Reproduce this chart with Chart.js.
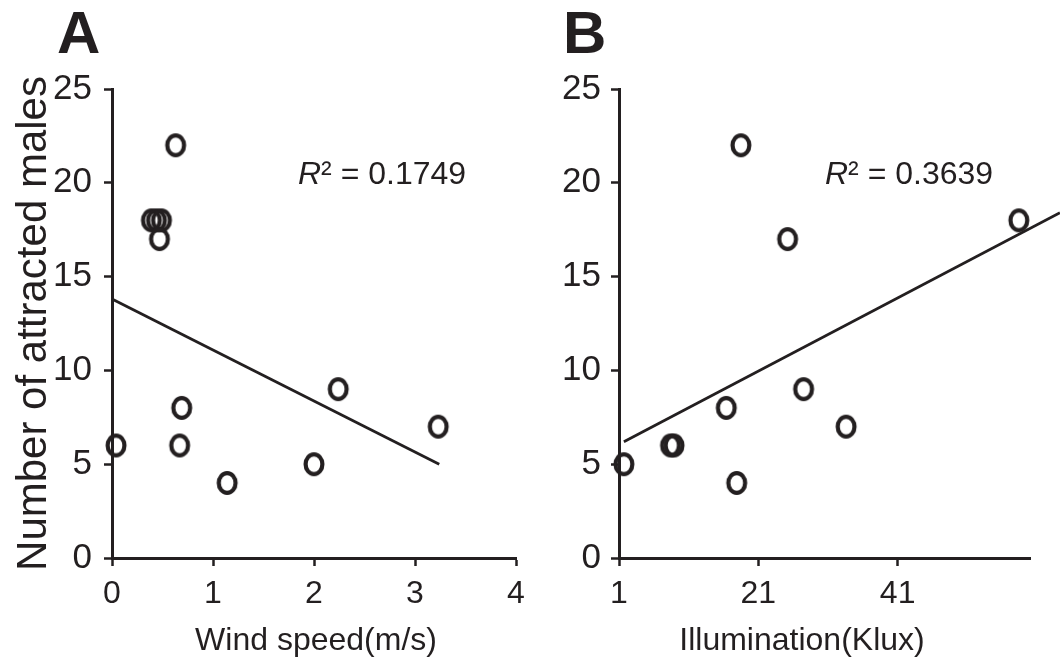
<!DOCTYPE html>
<html>
<head>
<meta charset="utf-8">
<script src="https://cdn.jsdelivr.net/npm/chart.js@4/dist/chart.umd.min.js"></script>
<style>
  html, body { margin: 0; padding: 0; background: #fff; }
  #wrap { position: relative; width: 1060px; height: 666px; }
  canvas { position: absolute; top: 0; }
  #chartA { left: 0; }
  #chartB { left: 530px; }
</style>
</head>
<body>
<div id="wrap">
  <canvas id="chartA" width="530" height="666"></canvas>
  <canvas id="chartB" width="530" height="666"></canvas>
</div>
<script>
// Panel A: wind speed vs males
const windSpeed = [0.04, 0.63, 0.39, 0.44, 0.49, 0.47, 0.69, 0.67, 1.14, 2.0, 2.24, 3.23];
const malesA    = [6,    22,   18,   18,   18,   17,   8,    6,    4,    5,   9,    7];
const fitA      = [{ x: 0, y: 13.8 }, { x: 3.24, y: 5.0 }];   // trend line endpoints as drawn
const xTicksA   = [0, 1, 2, 3, 4];

// Panel B: illumination vs males
const illumination = [1.7, 8.4, 8.9, 16.4, 17.9, 18.5, 25.2, 27.5, 33.6, 58.4];
const malesB       = [5,   6,   6,   8,    4,    22,   17,   9,    7,    18];
const fitB         = [{ x: 1.7, y: 6.2 }, { x: 64.3, y: 18.4 }];
const xTicksB      = [1, 21, 41];

const yTicks = [0, 5, 10, 15, 20, 25];

const INK = "#231f20";
const FONT = "'Liberation Sans', Arial, sans-serif";

// hollow, slightly tall "o" marker like the original figure
function ringMarker() {
  const c = document.createElement("canvas");
  c.width = 26; c.height = 30;
  const g = c.getContext("2d");
  g.strokeStyle = INK;
  g.lineWidth = 4.2;
  g.beginPath();
  g.ellipse(13, 15, 8.4, 9.9, 0, 0, Math.PI * 2);
  g.stroke();
  return c;
}
const marker = ringMarker();

const zip = (xs, ys) => xs.map((x, i) => ({ x, y: ys[i] }));

// letter, R² note and x title
const panelText = {
  id: "panelText",
  afterDraw(chart, args, o) {
    const ctx = chart.ctx;
    ctx.save();
    ctx.fillStyle = INK;
    ctx.textBaseline = "alphabetic";
    ctx.font = `bold 60px ${FONT}`;
    ctx.fillText(o.letter, o.letterX, 53);

    ctx.font = `italic 32px ${FONT}`;
    ctx.fillText("R", o.r2X, 184);
    const w = ctx.measureText("R").width;
    ctx.font = `32px ${FONT}`;
    ctx.fillText("\u00b2 = " + o.r2, o.r2X + w, 184);

    ctx.font = `32px ${FONT}`;
    ctx.textAlign = "center";
    ctx.fillText(o.xTitle, o.xTitleX, 650);
    ctx.restore();
  },
};

function makeChart(id, pts, fit, xMin, xMax, xTicks, yWidth, rightPad, yPad, text, yTitle) {
  const axisGrid = {
    display: true,
    drawOnChartArea: false,
    drawTicks: true,
    tickLength: 8,
    tickWidth: 2.5,
    tickColor: INK,
  };
  return new Chart(document.getElementById(id), {
    type: "scatter",
    data: {
      datasets: [
        {
          data: pts,
          pointStyle: marker,
          pointRadius: 11,
          clip: false,
        },
        {
          type: "line",
          data: fit,
          borderColor: INK,
          borderWidth: 2.8,
          pointRadius: 0,
          fill: false,
          clip: false,
        },
      ],
    },
    options: {
      responsive: false,
      animation: false,
      events: [],
      layout: { padding: { left: 0, right: rightPad, top: 89, bottom: 0 } },
      plugins: { legend: { display: false }, tooltip: { enabled: false }, panelText: text },
      scales: {
        x: {
          type: "linear",
          min: xMin,
          max: xMax,
          grid: axisGrid,
          border: { display: true, color: INK, width: 3 },
          afterBuildTicks: (s) => { s.ticks = xTicks.map((v) => ({ value: v })); },
          // fixed height; tick labels may hang into the side padding
          afterFit: (s) => { s.height = 108; s.paddingLeft = 0; s.paddingRight = 0; },
          ticks: { color: INK, font: { family: FONT, size: 32 }, padding: 9, maxRotation: 0 },
        },
        y: {
          type: "linear",
          min: 0,
          max: 25,
          grid: axisGrid,
          border: { display: true, color: INK, width: 3 },
          afterBuildTicks: (s) => { s.ticks = yTicks.map((v) => ({ value: v })); },
          afterFit: (s) => { s.width = yWidth; },
          ticks: { color: INK, font: { family: FONT, size: 35 }, padding: yPad },
          title: yTitle
            ? { display: true, text: yTitle, color: INK, font: { family: FONT, size: 42 }, padding: { top: 9, bottom: 0 } }
            : { display: false },
        },
      },
    },
    plugins: [panelText],
  });
}

makeChart("chartA", zip(windSpeed, malesA), fitA, 0, 4, xTicksA, 112, 14, 12,
  { letter: "A", letterX: 57, r2: "0.1749", r2X: 298, xTitle: "Wind speed(m/s)", xTitleX: 316 },
  "Number of attracted males");
makeChart("chartB", zip(illumination, malesB), fitB, 1, 60, xTicksB, 89, 30, 10,
  { letter: "B", letterX: 33, r2: "0.3639", r2X: 295, xTitle: "Illumination(Klux)", xTitleX: 272 },
  null);
</script>
</body>
</html>
